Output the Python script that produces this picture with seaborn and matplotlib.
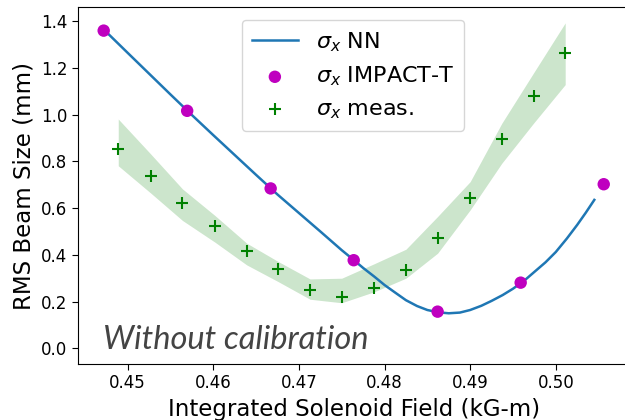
import numpy as np
import pandas as pd
import seaborn as sns
import matplotlib
matplotlib.use("Agg")
import matplotlib.pyplot as plt

# Neural-network prediction of the RMS beam size
nn_field = [0.4474, 0.4500, 0.4525, 0.4550, 0.4575, 0.4600, 0.4625, 0.4650,
            0.4675, 0.4700, 0.4725, 0.4750, 0.4763, 0.4775, 0.4788, 0.4800,
            0.4813, 0.4825, 0.4838, 0.4850, 0.4863, 0.4875, 0.4888, 0.4900,
            0.4913, 0.4925, 0.4938, 0.4950, 0.4963, 0.4975, 0.4988, 0.5000,
            0.5013, 0.5025, 0.5035, 0.5045]
nn_size = [1.357, 1.264, 1.175, 1.086, 0.998, 0.912, 0.827, 0.742,
           0.658, 0.579, 0.500, 0.420, 0.381, 0.344, 0.307, 0.271,
           0.237, 0.206, 0.181, 0.164, 0.154, 0.150, 0.153, 0.164,
           0.182, 0.203, 0.228, 0.255, 0.289, 0.327, 0.368, 0.412,
           0.470, 0.528, 0.580, 0.635]

# IMPACT-T simulation
sim_field = [0.4472, 0.45695, 0.4667, 0.4764, 0.4862, 0.4959, 0.5056]
sim_size = [1.359, 1.016, 0.684, 0.377, 0.157, 0.281, 0.702]

# Measurements with their uncertainty band
meas_field = [0.4489, 0.4527, 0.4564, 0.4602, 0.4639, 0.4676, 0.4713, 0.4750,
              0.4788, 0.4825, 0.4862, 0.4900, 0.4937, 0.4974, 0.5011]
meas_size = [0.852, 0.739, 0.621, 0.524, 0.417, 0.340, 0.248, 0.221,
             0.260, 0.335, 0.471, 0.645, 0.895, 1.078, 1.263]
meas_upper = [0.981, 0.831, 0.682, 0.568, 0.450, 0.371, 0.297, 0.300,
              0.362, 0.424, 0.564, 0.713, 0.963, 1.178, 1.392]
meas_lower = [0.781, 0.664, 0.547, 0.454, 0.357, 0.285, 0.210, 0.195,
              0.242, 0.300, 0.407, 0.592, 0.792, 0.963, 1.128]

nn_df = pd.DataFrame({"field": nn_field, "size": nn_size})
sim_df = pd.DataFrame({"field": sim_field, "size": sim_size})
meas_df = pd.DataFrame({"field": meas_field, "size": meas_size,
                        "upper": meas_upper, "lower": meas_lower})

plt.rcParams["font.family"] = ["DejaVu Sans"]
plt.rcParams["mathtext.fontset"] = "dejavusans"

fig = plt.figure(figsize=(6.25, 4.2), dpi=100)
ax = fig.add_axes([0.1248, 0.1333, 0.885, 0.85])
ax.spines["right"].set_visible(False)

ax.fill_between(meas_df["field"], meas_df["lower"], meas_df["upper"],
                color="g", alpha=0.2, linewidth=0)
sns.lineplot(data=nn_df, x="field", y="size", ax=ax, color="#1f77b4",
             linewidth=1.8, label=r"$\sigma_x$ NN", sort=False)
sns.scatterplot(data=sim_df, x="field", y="size", ax=ax, color="m",
                s=80, edgecolor="none", label=r"$\sigma_x$ IMPACT-T", zorder=3)
sns.scatterplot(data=meas_df, x="field", y="size", ax=ax, color="g",
                marker="+", s=85, linewidth=1.5, label=r"$\sigma_x$ meas.",
                zorder=3)

ax.set_xlim(0.4442, 0.5088)
ax.set_ylim(-0.067, 1.46)
ax.set_xticks([0.45, 0.46, 0.47, 0.48, 0.49, 0.50])
ax.set_xticklabels(["0.45", "0.46", "0.47", "0.48", "0.49", "0.50"])
ax.set_yticks([0.0, 0.2, 0.4, 0.6, 0.8, 1.0, 1.2, 1.4])
ax.tick_params(labelsize=12, length=4)
ax.set_xlabel("Integrated Solenoid Field (kG-m)", fontsize=16.5)
ax.set_ylabel("RMS Beam Size (mm)", fontsize=16.5)

ax.legend(loc="upper center", bbox_to_anchor=(0.497, 0.995), fontsize=16,
          handlelength=2.1, borderpad=0.45, labelspacing=0.5,
          handletextpad=0.8)

fig.text(0.165, 0.169, "Without calibration", fontsize=23.5, style="italic",
         color="#444444", family=["Lato", "DejaVu Sans"])

fig.savefig("out.png", dpi=100)
